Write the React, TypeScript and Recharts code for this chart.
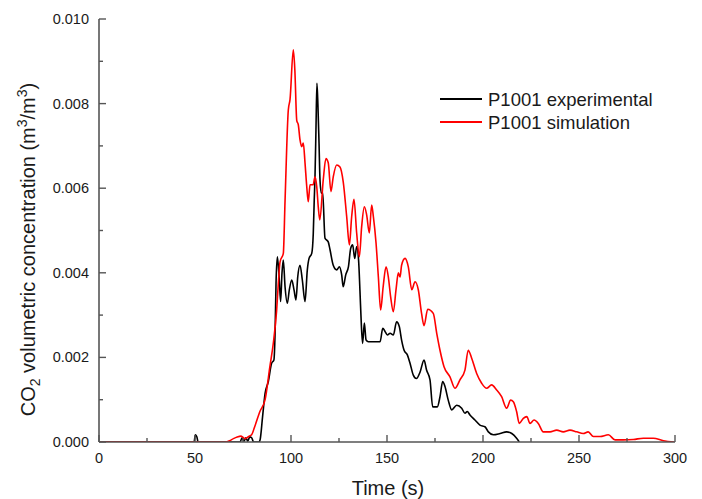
import React from 'react';
import { LineChart, Line, XAxis, YAxis, Legend } from 'recharts';

// [time (s), CO2 volumetric concentration (m3/m3)]
const experimental: [number, number][] = [
  [0, 0], [49.5, 0], [50.2, 0.00017], [51, 0.00012], [51.6, 0], [73.5, 0], [74.5, 0.0001], [75.5, 0.00002],
  [76.5, 0.0001], [77.5, 0.00002], [78.5, 0.00012], [79.5, 0.0001], [80.5, 0], [83.3, 0], [83.9, 0.00005],
  [85.2, 0.0006], [86.5, 0.00115], [88.2, 0.00143], [89.9, 0.00186], [91.1, 0.00194], [91.7, 0.00257],
  [92.2, 0.00375], [92.9, 0.00438], [93.9, 0.00383], [94.6, 0.00332], [95.3, 0.00399], [96, 0.0043],
  [96.9, 0.00367], [98.1, 0.00328], [99.1, 0.00359], [100.4, 0.00383], [101.6, 0.00359], [102.6, 0.00336],
  [103.5, 0.0039], [104.7, 0.00418], [105.9, 0.00383], [107.3, 0.00332], [108.5, 0.00407], [109.4, 0.00434],
  [110.8, 0.00446], [111.6, 0.00493], [112.1, 0.00572], [112.5, 0.00627], [113, 0.00738], [113.5, 0.00848],
  [114, 0.008], [114.6, 0.00706], [115.1, 0.0062], [115.8, 0.00588], [116.5, 0.0059], [117.7, 0.00482],
  [119.4, 0.00473], [120.3, 0.00455], [122, 0.00418], [123.8, 0.00407], [125.2, 0.00414], [126.4, 0.00395],
  [127.2, 0.00367], [128.5, 0.00395], [129.9, 0.00414], [131.1, 0.00458], [132.1, 0.00466], [133.2, 0.00434],
  [134.2, 0.00462], [135.2, 0.0043], [135.9, 0.00359], [136.6, 0.00281], [137.3, 0.00233], [138.2, 0.00281],
  [139.1, 0.00241], [140.3, 0.00237], [142.9, 0.00237], [146.4, 0.00237], [147.8, 0.00269], [149, 0.00261],
  [150.2, 0.00253], [151.6, 0.00257], [153.3, 0.00253], [155, 0.00284], [156.4, 0.00273], [157.6, 0.00241],
  [158.9, 0.00217], [160.6, 0.00206], [162, 0.00186], [163.7, 0.00158], [165.3, 0.0015], [167.2, 0.00165],
  [169.3, 0.00194], [170.6, 0.0017], [172.4, 0.00147], [173.8, 0.00083], [176.2, 0.00083], [177.6, 0.00107],
  [179, 0.00143], [180.2, 0.00131], [181.9, 0.00099], [183.7, 0.00076], [186.3, 0.00087], [188.9, 0.0008],
  [190.6, 0.00068], [191.8, 0.00072], [193.2, 0.00064], [195.8, 0.00052], [198.4, 0.0004], [201, 0.00036],
  [202.8, 0.00024], [205.4, 0.00017], [208.9, 0.0002], [212.3, 0.00024], [215, 0.0002], [217.5, 0.00009],
  [218.9, 0],
];

const simulation: [number, number][] = [
  [0, 0], [66, 0], [68, 0.00003], [70, 0.00008], [72, 0.00012], [74, 0.00014], [76, 0.00008], [78, 0.00013],
  [79.5, 0.00017], [81, 0.00035], [83.8, 0.00072], [86.5, 0.001], [89, 0.00178], [90.8, 0.00234], [92.5, 0.0031],
  [93.4, 0.00375], [94.3, 0.00426], [96, 0.00446], [96.9, 0.0057], [98.6, 0.00785], [99.5, 0.0081],
  [101.2, 0.00927], [102, 0.0088], [103, 0.0076], [103.8, 0.0075], [104.7, 0.00714], [105.6, 0.00698],
  [106.4, 0.00707], [107.3, 0.0066], [108.2, 0.00604], [109, 0.00568], [109.9, 0.00608], [111.5, 0.00608],
  [112.5, 0.00627], [113.4, 0.00604], [114.2, 0.00556], [115, 0.00525], [116.8, 0.0062], [118.2, 0.0067],
  [119.4, 0.0066], [120.8, 0.00592], [122, 0.00627], [123.8, 0.00655], [125.5, 0.0065], [127.2, 0.00615],
  [129, 0.00533], [130.4, 0.00466], [131.6, 0.00533], [132.8, 0.00574], [134.2, 0.00494], [135.6, 0.00438],
  [136.8, 0.00509], [138.2, 0.00556], [139.4, 0.00537], [140.8, 0.00494], [142, 0.0056], [142.9, 0.00533],
  [144.3, 0.0047], [145.5, 0.0039], [146.7, 0.00312], [148, 0.00367], [149.5, 0.00414], [150.7, 0.0039],
  [151.9, 0.00343], [153.3, 0.00308], [154.7, 0.0036], [155.9, 0.004], [156.8, 0.0039], [157.6, 0.00418],
  [159.4, 0.00434], [161.1, 0.00414], [162.9, 0.0036], [164.6, 0.00379], [166.3, 0.0036], [168, 0.00304],
  [169.3, 0.00275], [171.2, 0.00314], [174.1, 0.00304], [175.9, 0.00257], [177.6, 0.00217], [179.7, 0.00178],
  [182.8, 0.00154], [185.4, 0.00127], [188, 0.00147], [190.6, 0.0017], [192.3, 0.00217], [194.1, 0.00198],
  [196.7, 0.00162], [199.3, 0.00139], [201.9, 0.00127], [204.5, 0.00135], [207.1, 0.00123], [209.7, 0.00107],
  [212.3, 0.0008], [214.4, 0.00099], [215.8, 0.00095], [217.5, 0.00072], [218.9, 0.00044], [221, 0.00056],
  [222.8, 0.0006], [224.5, 0.00044], [226.6, 0.00052], [228.8, 0.00044], [231.4, 0.00024], [234.9, 0.00024],
  [238.4, 0.00028], [241.8, 0.00024], [245.3, 0.00028], [248.8, 0.00024], [252.2, 0.0002], [254.8, 0.00024],
  [257.5, 0.00013], [261, 0.00013], [265.3, 0.00017], [268.8, 0.00005], [273, 0.00005], [278.3, 0.00006],
  [283.5, 0.00009], [288.7, 0.00009], [294, 0.00003], [299.5, 0],
];

const xTicks = [0, 25, 50, 75, 100, 125, 150, 175, 200, 225, 250, 275, 300];
const yTicks = [0, 0.001, 0.002, 0.003, 0.004, 0.005, 0.006, 0.007, 0.008, 0.009, 0.01];
const seriesNames = ['P1001 experimental', 'P1001 simulation'];
const seriesColors = ['#000000', '#ff0000'];

const expData = experimental.map(([t, v]) => ({ t, v }));
const simData = simulation.map(([t, v]) => ({ t, v }));

const FONT = '"Liberation Sans", Arial, sans-serif';
const AXIS = '#555555';
const TEXT = '#1a1a1a';
const MAJOR = 7;
const MINOR = 4;

const BottomTick = (p: any) => {
  const major = p.index % 2 === 0;
  return (
    <g>
      <line x1={p.x} x2={p.x} y1={p.y} y2={p.y - (major ? MAJOR : MINOR)} stroke={AXIS} strokeWidth={1.4} />
      {major && (
        <text x={p.x} y={p.y + 21} textAnchor="middle" fontFamily={FONT} fontSize={14.5} fill={TEXT}>
          {String(p.payload.value)}
        </text>
      )}
    </g>
  );
};

const TopTick = (p: any) => {
  const major = p.index % 2 === 0;
  return <line x1={p.x} x2={p.x} y1={p.y} y2={p.y + (major ? MAJOR : MINOR)} stroke={AXIS} strokeWidth={1.4} />;
};

const LeftTick = (p: any) => {
  const major = p.index % 2 === 0;
  return (
    <g>
      <line x1={p.x} x2={p.x + (major ? MAJOR : MINOR)} y1={p.y} y2={p.y} stroke={AXIS} strokeWidth={1.4} />
      {major && (
        <text x={p.x - 10} y={p.y + 5} textAnchor="end" fontFamily={FONT} fontSize={14.5} fill={TEXT}>
          {Number(p.payload.value).toFixed(3)}
        </text>
      )}
    </g>
  );
};

const RightTick = (p: any) => {
  const major = p.index % 2 === 0;
  return <line x1={p.x} x2={p.x - (major ? MAJOR : MINOR)} y1={p.y} y2={p.y} stroke={AXIS} strokeWidth={1.4} />;
};

const XTitle = (props: any) => {
  const vb = props.viewBox || { x: 99, y: 442, width: 576, height: 57 };
  return (
    <text x={vb.x + vb.width / 2 + 1} y={vb.y + 53} textAnchor="middle" fontFamily={FONT} fontSize={20} fill={TEXT}>
      Time (s)
    </text>
  );
};

const YTitle = (props: any) => {
  const vb = props.viewBox || { x: 0, y: 19, width: 99, height: 423 };
  const x = vb.x + 35;
  const y = vb.y + vb.height / 2 + 19;
  return (
    <text x={x} y={y} textAnchor="middle" fontFamily={FONT} fontSize={20} fill={TEXT} transform={`rotate(-90, ${x}, ${y})`}>
      CO
      <tspan dy={5} fontSize={14}>2</tspan>
      <tspan dy={-5}> volumetric concentration (m</tspan>
      <tspan dy={-8} fontSize={14}>3</tspan>
      <tspan dy={8}>/m</tspan>
      <tspan dy={-8} fontSize={14}>3</tspan>
      <tspan dy={8}>)</tspan>
    </text>
  );
};

const LegendContent = () => (
  <div style={{ fontFamily: FONT, fontSize: 18.5, color: TEXT }}>
    {seriesNames.map((name, i) => (
      <div key={name} style={{ display: 'flex', alignItems: 'center', height: 23, whiteSpace: 'nowrap' }}>
        <svg width={42} height={4} style={{ display: 'block' }}>
          <line x1={0} x2={42} y1={2} y2={2} stroke={seriesColors[i]} strokeWidth={2} />
        </svg>
        <span style={{ marginLeft: 6, lineHeight: '23px' }}>{name}</span>
      </div>
    ))}
  </div>
);

export default function App() {
  return (
    <div style={{ position: 'absolute', left: 0, top: 0, background: '#fff' }}>
      <LineChart width={702} height={499} margin={{ top: 19, right: 27, bottom: 0, left: 0 }}>
        <XAxis
          xAxisId="bottom"
          dataKey="t"
          type="number"
          orientation="bottom"
          domain={[0, 300]}
          allowDataOverflow
          ticks={xTicks}
          interval={0}
          height={57}
          tickSize={0}
          tickMargin={0}
          tickLine={false}
          tick={BottomTick}
          axisLine={{ stroke: AXIS, strokeWidth: 1.6 }}
          label={{ content: XTitle }}
        />
        <XAxis
          xAxisId="top"
          dataKey="t"
          type="number"
          orientation="top"
          domain={[0, 300]}
          allowDataOverflow
          ticks={xTicks}
          interval={0}
          height={0}
          tickSize={0}
          tickMargin={0}
          tickLine={false}
          tick={TopTick}
          axisLine={{ stroke: AXIS, strokeWidth: 1.6 }}
        />
        <YAxis
          yAxisId="left"
          type="number"
          orientation="left"
          domain={[0, 0.01]}
          allowDataOverflow
          ticks={yTicks}
          interval={0}
          width={99}
          tickSize={0}
          tickMargin={0}
          tickLine={false}
          tick={LeftTick}
          axisLine={{ stroke: AXIS, strokeWidth: 1.6 }}
          label={{ content: YTitle }}
        />
        <YAxis
          yAxisId="right"
          type="number"
          orientation="right"
          domain={[0, 0.01]}
          allowDataOverflow
          ticks={yTicks}
          interval={0}
          width={0}
          tickSize={0}
          tickMargin={0}
          tickLine={false}
          tick={RightTick}
          axisLine={{ stroke: AXIS, strokeWidth: 1.6 }}
        />
        <Legend
          layout="vertical"
          align="center"
          verticalAlign="middle"
          content={LegendContent}
          wrapperStyle={{ left: 440, top: 87.5, width: 240, height: 46 }}
        />
        <Line
          data={expData}
          xAxisId="top"
          yAxisId="right"
          dataKey="v"
          name={seriesNames[0]}
          type="monotone"
          stroke={seriesColors[0]}
          strokeWidth={1.6}
          dot={false}
          activeDot={false}
          isAnimationActive={false}
        />
        <Line
          data={simData}
          xAxisId="bottom"
          yAxisId="left"
          dataKey="v"
          name={seriesNames[1]}
          type="monotone"
          stroke={seriesColors[1]}
          strokeWidth={1.6}
          dot={false}
          activeDot={false}
          isAnimationActive={false}
        />
      </LineChart>
    </div>
  );
}
